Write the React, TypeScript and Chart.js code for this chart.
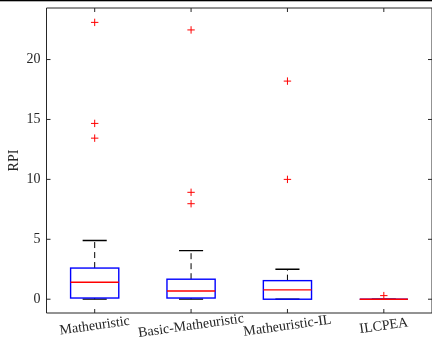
import React, { useEffect, useRef } from "react";
import { Chart, registerables } from "chart.js";

Chart.register(...registerables);

const categories = ["Matheuristic", "Basic-Matheuristic", "Matheuristic-IL", "ILCPEA"];
const whiskerLow = [0, 0, 0, 0];
const q1 = [0.1, 0.1, 0, 0];
const median = [1.42, 0.69, 0.78, 0];
const q3 = [2.6, 1.67, 1.55, 0];
const whiskerHigh = [4.9, 4.05, 2.5, 0];
const outliers = [
  [23.1, 14.67, 13.44],
  [22.47, 8.92, 7.97],
  [18.2, 10.0],
  [0.3],
];
const yTicks = [0, 5, 10, 15, 20];

const FONT = "'Liberation Serif', 'Times New Roman', serif";
const AXIS = "#262626";

const boxPlugin = {
  id: "boxPlugin",
  beforeDatasetsDraw(chart: any) {
    const ctx = chart.ctx;
    const xs = chart.scales.x;
    const ys = chart.scales.y;
    const unit = xs.getPixelForValue(2) - xs.getPixelForValue(1);
    const half = unit * 0.25;
    const capHalf = half * 0.5;
    ctx.save();
    categories.forEach((_, i) => {
      const cx = xs.getPixelForValue(i + 1);
      const yq1 = ys.getPixelForValue(q1[i]);
      const yq3 = ys.getPixelForValue(q3[i]);
      const ym = ys.getPixelForValue(median[i]);
      const ylo = ys.getPixelForValue(whiskerLow[i]);
      const yhi = ys.getPixelForValue(whiskerHigh[i]);
      ctx.strokeStyle = "#000";
      ctx.lineWidth = 1;
      ctx.setLineDash([6, 4]);
      ctx.beginPath();
      ctx.moveTo(cx, yq3);
      ctx.lineTo(cx, yhi);
      ctx.moveTo(cx, yq1);
      ctx.lineTo(cx, ylo);
      ctx.stroke();
      ctx.setLineDash([]);
      ctx.lineWidth = 1.3;
      ctx.beginPath();
      ctx.moveTo(cx - capHalf, yhi);
      ctx.lineTo(cx + capHalf, yhi);
      ctx.moveTo(cx - capHalf, ylo);
      ctx.lineTo(cx + capHalf, ylo);
      ctx.stroke();
      ctx.strokeStyle = "#0000FF";
      ctx.lineWidth = 1.4;
      ctx.strokeRect(cx - half, yq3, half * 2, yq1 - yq3);
      ctx.strokeStyle = "#FF0000";
      ctx.lineWidth = 1.4;
      ctx.beginPath();
      ctx.moveTo(cx - half, ym);
      ctx.lineTo(cx + half, ym);
      ctx.stroke();
    });
    ctx.restore();
  },
  afterDraw(chart: any) {
    const ctx = chart.ctx;
    const xs = chart.scales.x;
    const ys = chart.scales.y;
    const { left, right, top, bottom } = chart.chartArea;
    ctx.save();
    ctx.fillStyle = "#000";
    ctx.fillRect(0, 0, chart.width, 1.3);
    ctx.strokeStyle = AXIS;
    ctx.lineWidth = 1;
    ctx.beginPath();
    ctx.moveTo(left, top);
    ctx.lineTo(left, bottom);
    ctx.lineTo(right, bottom);
    ctx.moveTo(left, top);
    ctx.lineTo(right, top);
    ctx.lineTo(right, bottom);
    yTicks.forEach((v) => {
      const y = ys.getPixelForValue(v);
      ctx.moveTo(left, y);
      ctx.lineTo(left + 4, y);
      ctx.moveTo(right, y);
      ctx.lineTo(right - 4, y);
    });
    categories.forEach((_, i) => {
      const x = xs.getPixelForValue(i + 1);
      ctx.moveTo(x, bottom);
      ctx.lineTo(x, bottom - 4);
      ctx.moveTo(x, top);
      ctx.lineTo(x, top + 4);
    });
    ctx.stroke();
    ctx.fillStyle = AXIS;
    ctx.font = "14px " + FONT;
    ctx.textAlign = "center";
    ctx.textBaseline = "middle";
    categories.forEach((c, i) => {
      const x = xs.getPixelForValue(i + 1);
      ctx.save();
      ctx.translate(x, bottom + 13);
      ctx.rotate((-8 * Math.PI) / 180);
      ctx.fillText(c, 0, 0);
      ctx.restore();
    });
    ctx.restore();
  },
};

export default function App() {
  const ref = useRef<HTMLCanvasElement | null>(null);
  useEffect(() => {
    if (!ref.current) return;
    const points: { x: number; y: number }[] = [];
    outliers.forEach((arr, i) => arr.forEach((v) => points.push({ x: i + 1, y: v })));
    const chart = new Chart(ref.current, {
      type: "scatter",
      data: {
        datasets: [
          {
            data: points,
            pointStyle: "cross",
            radius: 3.7,
            borderColor: "#FF0000",
            backgroundColor: "#FF0000",
            borderWidth: 1,
          },
        ],
      },
      options: {
        animation: false,
        responsive: false,
        devicePixelRatio: 1,
        layout: { autoPadding: false, padding: { top: 8, right: 0, left: 0, bottom: 0 } },
        plugins: { legend: { display: false }, tooltip: { enabled: false } },
        scales: {
          x: {
            type: "linear",
            min: 0.5,
            max: 4.5,
            grid: { display: false },
            border: { display: false },
            ticks: { display: false },
            afterFit: (s: any) => {
              s.height = 28;
              s.paddingLeft = 0;
              s.paddingRight = 0;
            },
          },
          y: {
            type: "linear",
            min: -1.15,
            max: 24.3,
            grid: { display: false, drawTicks: false },
            border: { display: false },
            afterBuildTicks: (s: any) => {
              s.ticks = yTicks.map((v) => ({ value: v }));
            },
            ticks: {
              color: AXIS,
              font: { family: FONT, size: 14 },
              padding: 6,
            },
            title: {
              display: true,
              text: "RPI",
              color: AXIS,
              font: { family: FONT, size: 14 },
              padding: { top: 5.6, bottom: 0 },
            },
            afterFit: (s: any) => {
              s.width = 46.5;
              s.paddingTop = 0;
              s.paddingBottom = 0;
            },
          },
        },
      },
      plugins: [boxPlugin],
    });
    return () => chart.destroy();
  }, []);
  return (
    <div style={{ position: "absolute", left: 0, top: 0, width: 432, height: 341, background: "#fff" }}>
      <canvas ref={ref} width={432} height={341} />
    </div>
  );
}
